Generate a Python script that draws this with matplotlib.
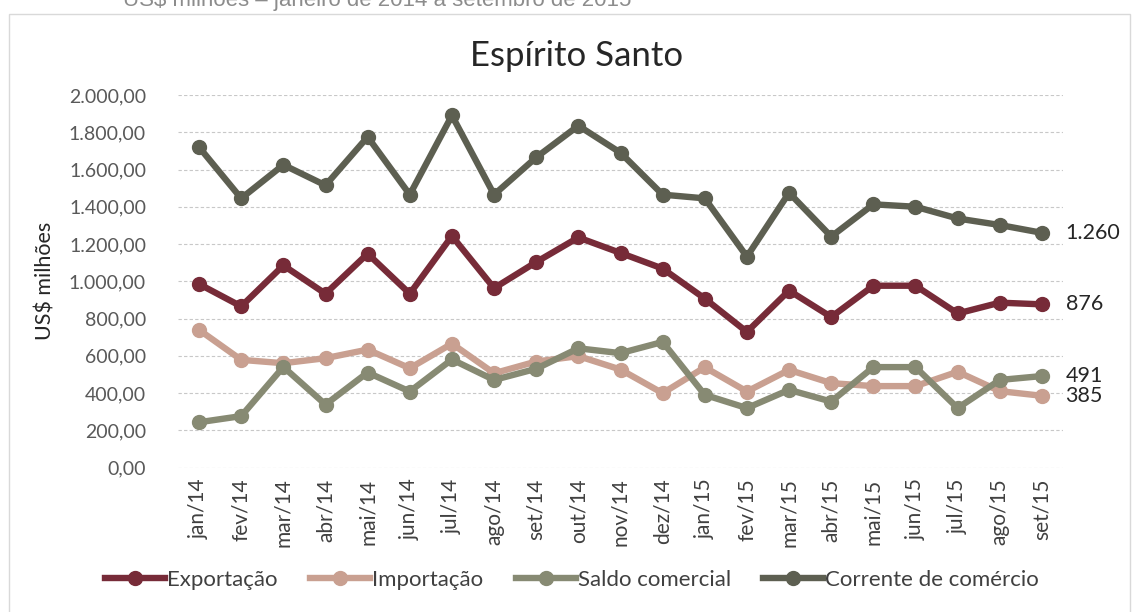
import matplotlib
matplotlib.use("Agg")
import matplotlib.pyplot as plt
from matplotlib.patches import Rectangle
from matplotlib.ticker import FuncFormatter

# dados (US$ milhões) - jan/2014 a set/2015
meses = ["jan/14", "fev/14", "mar/14", "abr/14", "mai/14", "jun/14", "jul/14",
         "ago/14", "set/14", "out/14", "nov/14", "dez/14", "jan/15", "fev/15",
         "mar/15", "abr/15", "mai/15", "jun/15", "jul/15", "ago/15", "set/15"]
exportacao = [985, 865, 1085, 933, 1148, 933, 1243, 963, 1103, 1235, 1152, 1068,
              907, 728, 950, 808, 976, 976, 827, 885, 876]
importacao = [739, 578, 560, 587, 633, 533, 665, 506, 569, 598, 526, 399,
              538, 408, 524, 453, 437, 437, 514, 410, 385]
saldo = [243, 276, 540, 338, 510, 408, 580, 470, 530, 640, 614, 674,
         390, 319, 417, 354, 539, 539, 319, 470, 491]
corrente = [1720, 1445, 1625, 1515, 1775, 1465, 1890, 1465, 1665, 1835, 1690, 1465,
            1445, 1132, 1475, 1240, 1413, 1400, 1337, 1302, 1260]
rotulos_finais = ["876", "385", "491", "1.260"]

series = [("Exportação", exportacao, "#772b38"),
          ("Importação", importacao, "#c9a091"),
          ("Saldo comercial", saldo, "#878a73"),
          ("Corrente de comércio", corrente, "#5d5f51")]

plt.rcParams['font.family'] = ['Lato', 'DejaVu Sans']

fig = plt.figure(figsize=(11.32, 6.12), dpi=100)
# moldura do grafico
fig.patches.append(Rectangle((9/1132, -0.1), (1130-9)/1132, 1.1 - 14/612,
                             transform=fig.transFigure, fill=False,
                             edgecolor="#d9d9d9", linewidth=1.0))
fig.text(123/1132, 1 - 6/612, "US$ milhões – janeiro de 2014 a setembro de 2015",
         family="Liberation Sans", fontsize=16, color="#8c8c8c", va="baseline")

ax = fig.add_axes([178/1132, 1 - 467.5/612, (1063-178)/1132, (467.5-95)/612])
x = range(len(meses))

for (nome, vals, cor), rot in zip(series, rotulos_finais):
    ax.plot(x, vals, color=cor, lw=4.6, marker="o", markersize=10,
            label=nome, solid_joinstyle="round", zorder=3)
    ax.annotate(rot, (x[-1], vals[-1]), xytext=(17, 0), textcoords="offset points",
                va="center", ha="left", fontsize=15.5, color="#262626")

ax.set_xlim(-0.5, len(meses) - 0.5)
ax.set_ylim(0, 2000)
ax.set_yticks(range(0, 2001, 200))
ax.yaxis.set_major_formatter(FuncFormatter(
    lambda v, p: f"{v:,.2f}".replace(",", "X").replace(".", ",").replace("X", ".")))
ax.set_xticks(list(x))
ax.set_xticklabels(meses, rotation=90, fontsize=15, color="#404040")
ax.tick_params(axis="y", labelsize=14, labelcolor="#595959", length=0, pad=23)
ax.tick_params(axis="x", length=0, pad=8)
ax.grid(axis="y", color="#c8c8c8", linestyle=(0, (3, 2)), linewidth=0.8)
for s in ax.spines.values():
    s.set_visible(False)

ax.set_ylabel("US$ milhões", fontsize=15.5, color="#262626")
ax.yaxis.set_label_coords((55 - 178) / 885, 0.5)
fig.text(577/1132, 1 - 56/612, "Espírito Santo", fontsize=25, color="#262626",
         ha="center", va="center")

fig.legend(loc="center left", bbox_to_anchor=(85/1132, 1 - 580/612), ncol=4,
           frameon=False, fontsize=16, handlelength=2.7, handletextpad=0.1,
           columnspacing=1.45, labelcolor="#404040")

fig.savefig("out.png", dpi=100)
